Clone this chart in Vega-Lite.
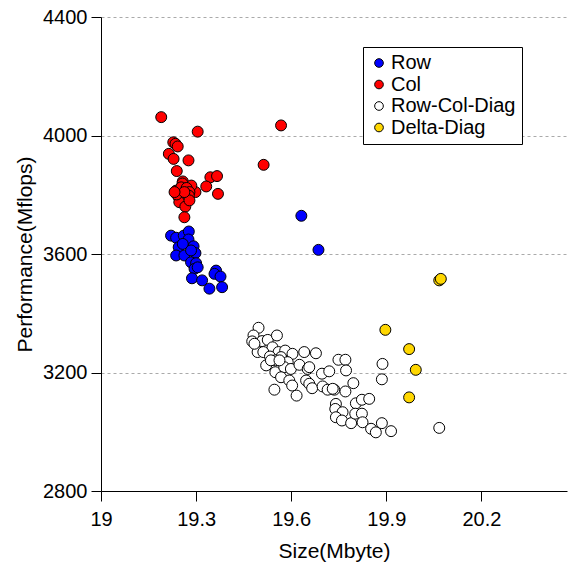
{
  "$schema": "https://vega.github.io/schema/vega-lite/v6.json",
  "width": 466,
  "height": 474,
  "autosize": {"type": "none"},
  "padding": {"left": 101, "top": 17, "right": 1, "bottom": 79},
  "background": "white",
  "config": {
    "view": {"stroke": null},
    "font": "Liberation Sans",
    "axis": {"labelFont": "Liberation Sans", "titleFont": "Liberation Sans", "labelColor": "black", "titleColor": "black", "domainColor": "black", "tickColor": "black", "titleFontWeight": "normal", "labelFontSize": 20, "titleFontSize": 21}
  },
  "data": {"values": [
    {"size": 19.190, "perf": 4062, "method": "Col"},
    {"size": 19.305, "perf": 4013, "method": "Col"},
    {"size": 19.568, "perf": 4034, "method": "Col"},
    {"size": 19.228, "perf": 3977, "method": "Col"},
    {"size": 19.235, "perf": 3972, "method": "Col"},
    {"size": 19.242, "perf": 3963, "method": "Col"},
    {"size": 19.214, "perf": 3938, "method": "Col"},
    {"size": 19.229, "perf": 3921, "method": "Col"},
    {"size": 19.276, "perf": 3916, "method": "Col"},
    {"size": 19.513, "perf": 3901, "method": "Col"},
    {"size": 19.239, "perf": 3880, "method": "Col"},
    {"size": 19.345, "perf": 3859, "method": "Col"},
    {"size": 19.366, "perf": 3863, "method": "Col"},
    {"size": 19.332, "perf": 3828, "method": "Col"},
    {"size": 19.369, "perf": 3803, "method": "Col"},
    {"size": 19.298, "perf": 3809, "method": "Col"},
    {"size": 19.258, "perf": 3845, "method": "Col"},
    {"size": 19.257, "perf": 3838, "method": "Col"},
    {"size": 19.285, "perf": 3831, "method": "Col"},
    {"size": 19.237, "perf": 3814, "method": "Col"},
    {"size": 19.253, "perf": 3825, "method": "Col"},
    {"size": 19.270, "perf": 3823, "method": "Col"},
    {"size": 19.279, "perf": 3809, "method": "Col"},
    {"size": 19.245, "perf": 3792, "method": "Col"},
    {"size": 19.277, "perf": 3797, "method": "Col"},
    {"size": 19.258, "perf": 3786, "method": "Col"},
    {"size": 19.247, "perf": 3775, "method": "Col"},
    {"size": 19.266, "perf": 3760, "method": "Col"},
    {"size": 19.279, "perf": 3781, "method": "Col"},
    {"size": 19.239, "perf": 3801, "method": "Col"},
    {"size": 19.263, "perf": 3809, "method": "Col"},
    {"size": 19.232, "perf": 3809, "method": "Col"},
    {"size": 19.263, "perf": 3724, "method": "Col"},
    {"size": 19.632, "perf": 3729, "method": "Row"},
    {"size": 19.686, "perf": 3614, "method": "Row"},
    {"size": 19.221, "perf": 3662, "method": "Row"},
    {"size": 19.237, "perf": 3655, "method": "Row"},
    {"size": 19.261, "perf": 3662, "method": "Row"},
    {"size": 19.277, "perf": 3676, "method": "Row"},
    {"size": 19.276, "perf": 3649, "method": "Row"},
    {"size": 19.245, "perf": 3623, "method": "Row"},
    {"size": 19.292, "perf": 3626, "method": "Row"},
    {"size": 19.237, "perf": 3595, "method": "Row"},
    {"size": 19.263, "perf": 3595, "method": "Row"},
    {"size": 19.298, "perf": 3603, "method": "Row"},
    {"size": 19.284, "perf": 3572, "method": "Row"},
    {"size": 19.300, "perf": 3569, "method": "Row"},
    {"size": 19.295, "perf": 3550, "method": "Row"},
    {"size": 19.287, "perf": 3518, "method": "Row"},
    {"size": 19.319, "perf": 3511, "method": "Row"},
    {"size": 19.342, "perf": 3483, "method": "Row"},
    {"size": 19.363, "perf": 3544, "method": "Row"},
    {"size": 19.358, "perf": 3533, "method": "Row"},
    {"size": 19.377, "perf": 3524, "method": "Row"},
    {"size": 19.382, "perf": 3488, "method": "Row"},
    {"size": 19.305, "perf": 3555, "method": "Row"},
    {"size": 19.258, "perf": 3634, "method": "Row"},
    {"size": 19.284, "perf": 3612, "method": "Row"},
    {"size": 19.497, "perf": 3351, "method": "Row-Col-Diag"},
    {"size": 19.481, "perf": 3325, "method": "Row-Col-Diag"},
    {"size": 19.477, "perf": 3305, "method": "Row-Col-Diag"},
    {"size": 19.508, "perf": 3306, "method": "Row-Col-Diag"},
    {"size": 19.526, "perf": 3310, "method": "Row-Col-Diag"},
    {"size": 19.555, "perf": 3325, "method": "Row-Col-Diag"},
    {"size": 19.541, "perf": 3285, "method": "Row-Col-Diag"},
    {"size": 19.494, "perf": 3269, "method": "Row-Col-Diag"},
    {"size": 19.512, "perf": 3269, "method": "Row-Col-Diag"},
    {"size": 19.560, "perf": 3269, "method": "Row-Col-Diag"},
    {"size": 19.581, "perf": 3274, "method": "Row-Col-Diag"},
    {"size": 19.604, "perf": 3263, "method": "Row-Col-Diag"},
    {"size": 19.568, "perf": 3252, "method": "Row-Col-Diag"},
    {"size": 19.533, "perf": 3254, "method": "Row-Col-Diag"},
    {"size": 19.521, "perf": 3224, "method": "Row-Col-Diag"},
    {"size": 19.550, "perf": 3241, "method": "Row-Col-Diag"},
    {"size": 19.589, "perf": 3235, "method": "Row-Col-Diag"},
    {"size": 19.550, "perf": 3201, "method": "Row-Col-Diag"},
    {"size": 19.578, "perf": 3218, "method": "Row-Col-Diag"},
    {"size": 19.599, "perf": 3212, "method": "Row-Col-Diag"},
    {"size": 19.626, "perf": 3226, "method": "Row-Col-Diag"},
    {"size": 19.641, "perf": 3269, "method": "Row-Col-Diag"},
    {"size": 19.678, "perf": 3265, "method": "Row-Col-Diag"},
    {"size": 19.652, "perf": 3212, "method": "Row-Col-Diag"},
    {"size": 19.568, "perf": 3184, "method": "Row-Col-Diag"},
    {"size": 19.594, "perf": 3173, "method": "Row-Col-Diag"},
    {"size": 19.547, "perf": 3142, "method": "Row-Col-Diag"},
    {"size": 19.603, "perf": 3156, "method": "Row-Col-Diag"},
    {"size": 19.617, "perf": 3122, "method": "Row-Col-Diag"},
    {"size": 19.647, "perf": 3173, "method": "Row-Col-Diag"},
    {"size": 19.657, "perf": 3162, "method": "Row-Col-Diag"},
    {"size": 19.666, "perf": 3147, "method": "Row-Col-Diag"},
    {"size": 19.697, "perf": 3196, "method": "Row-Col-Diag"},
    {"size": 19.720, "perf": 3204, "method": "Row-Col-Diag"},
    {"size": 19.699, "perf": 3153, "method": "Row-Col-Diag"},
    {"size": 19.715, "perf": 3142, "method": "Row-Col-Diag"},
    {"size": 19.736, "perf": 3142, "method": "Row-Col-Diag"},
    {"size": 19.771, "perf": 3136, "method": "Row-Col-Diag"},
    {"size": 19.749, "perf": 3243, "method": "Row-Col-Diag"},
    {"size": 19.771, "perf": 3243, "method": "Row-Col-Diag"},
    {"size": 19.773, "perf": 3207, "method": "Row-Col-Diag"},
    {"size": 19.796, "perf": 3164, "method": "Row-Col-Diag"},
    {"size": 19.888, "perf": 3229, "method": "Row-Col-Diag"},
    {"size": 19.886, "perf": 3177, "method": "Row-Col-Diag"},
    {"size": 19.741, "perf": 3094, "method": "Row-Col-Diag"},
    {"size": 19.804, "perf": 3096, "method": "Row-Col-Diag"},
    {"size": 19.823, "perf": 3108, "method": "Row-Col-Diag"},
    {"size": 19.846, "perf": 3111, "method": "Row-Col-Diag"},
    {"size": 19.739, "perf": 3077, "method": "Row-Col-Diag"},
    {"size": 19.762, "perf": 3066, "method": "Row-Col-Diag"},
    {"size": 19.741, "perf": 3049, "method": "Row-Col-Diag"},
    {"size": 19.760, "perf": 3038, "method": "Row-Col-Diag"},
    {"size": 19.789, "perf": 3029, "method": "Row-Col-Diag"},
    {"size": 19.802, "perf": 3061, "method": "Row-Col-Diag"},
    {"size": 19.823, "perf": 3061, "method": "Row-Col-Diag"},
    {"size": 19.825, "perf": 3032, "method": "Row-Col-Diag"},
    {"size": 19.852, "perf": 3010, "method": "Row-Col-Diag"},
    {"size": 19.867, "perf": 2998, "method": "Row-Col-Diag"},
    {"size": 19.886, "perf": 3029, "method": "Row-Col-Diag"},
    {"size": 19.915, "perf": 3002, "method": "Row-Col-Diag"},
    {"size": 20.067, "perf": 3013, "method": "Row-Col-Diag"},
    {"size": 19.484, "perf": 3297, "method": "Row-Col-Diag"},
    {"size": 19.536, "perf": 3241, "method": "Row-Col-Diag"},
    {"size": 19.563, "perf": 3241, "method": "Row-Col-Diag"},
    {"size": 19.657, "perf": 3218, "method": "Row-Col-Diag"},
    {"size": 19.731, "perf": 3145, "method": "Row-Col-Diag"},
    {"size": 20.067, "perf": 3511, "method": "Delta-Diag"},
    {"size": 20.072, "perf": 3516, "method": "Delta-Diag"},
    {"size": 19.897, "perf": 3344, "method": "Delta-Diag"},
    {"size": 19.972, "perf": 3279, "method": "Delta-Diag"},
    {"size": 19.993, "perf": 3209, "method": "Delta-Diag"},
    {"size": 19.972, "perf": 3116, "method": "Delta-Diag"}
  ]},
  "mark": {"type": "point", "shape": "circle", "filled": true, "size": 120, "stroke": "black", "strokeWidth": 1, "opacity": 1},
  "encoding": {
    "x": {"field": "size", "type": "quantitative", "title": "Size(Mbyte)",
      "scale": {"domain": [19, 20.47], "nice": false, "zero": false},
      "axis": {"values": [19, 19.3, 19.6, 19.9, 20.2], "format": "~f", "grid": false, "tickSize": 10, "labelPadding": 8, "titlePadding": 11, "domainWidth": 1, "tickWidth": 1, "labelFlush": false}},
    "y": {"field": "perf", "type": "quantitative", "title": "Performance(Mflops)",
      "scale": {"domain": [2800, 4400], "nice": false, "zero": false},
      "axis": {"values": [2800, 3200, 3600, 4000, 4400], "format": "d", "grid": true, "gridDash": [3, 3], "gridColor": "#aaaaaa", "gridWidth": 1, "tickSize": 10, "labelPadding": 4, "titlePadding": 7, "labelFlush": false}},
    "color": {"field": "method", "type": "nominal",
      "scale": {"domain": ["Row", "Col", "Row-Col-Diag", "Delta-Diag"], "range": ["#0000ff", "#ff0000", "#ffffff", "#ffd700"]},
      "legend": {"title": null, "orient": "none", "legendX": 262, "legendY": 30, "strokeColor": "black", "fillColor": "white", "padding": 6, "symbolType": "circle", "symbolSize": 75, "symbolStrokeColor": "black", "symbolStrokeWidth": 1, "labelFontSize": 20, "labelFont": "Liberation Sans", "labelColor": "black", "rowPadding": 1.5, "labelOffset": 2}}
  }
}
